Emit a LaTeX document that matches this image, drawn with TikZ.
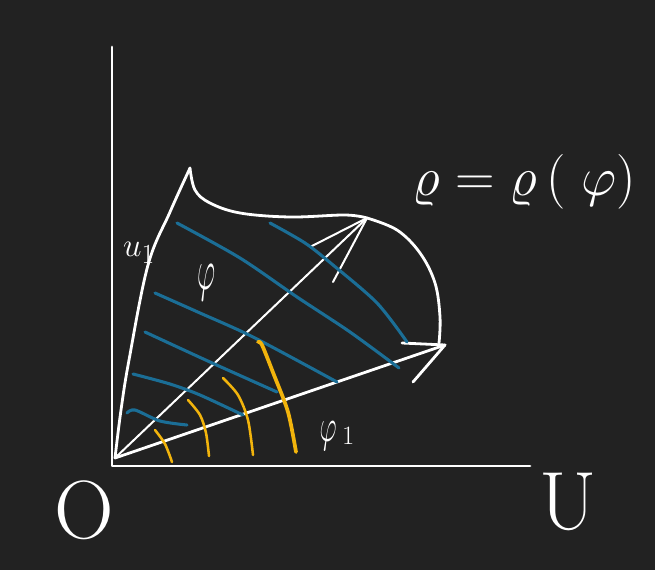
\documentclass[tikz,border=0pt]{standalone}
\definecolor{bg}{HTML}{222222}
\definecolor{blu}{HTML}{1B6E96}
\definecolor{yel}{HTML}{F2B40C}
\begin{document}
\begin{tikzpicture}[x=0.75pt,y=-0.75pt,line cap=round,line join=round,
  wline/.style={draw=white,line width=2.1pt},
  thinw/.style={draw=white,line width=1.5pt},
  bline/.style={draw=blu,line width=2.3pt},
  yline/.style={draw=yel,line width=1.9pt},
  ythick/.style={draw=yel,line width=2.8pt},
  lbl/.style={text=white,inner sep=0pt,font=\fontsize{24.88}{24.88}\selectfont}]
\fill[bg] (0,0) rectangle (655,570);
\useasboundingbox (0,0) rectangle (655,570);
% key points
\coordinate (O) at (115,458);
\coordinate (A) at (367,218);
\coordinate (B) at (445,345);
\coordinate (C) at (190,168);
\coordinate (Ytop) at (112,47);
\coordinate (Xend) at (530,466);
\coordinate (corner) at (112,466);
% axes
\draw[wline] (Ytop) -- (corner) -- (Xend);
% left boundary
\draw[wline] plot[smooth,tension=0.6] coordinates {(O) (121,410) (129,360) (148,265) (170,212) (C)};
% top boundary
\draw[wline] plot[smooth,tension=0.6] coordinates {(C) (195,190) (210,203) (240,213) (290,217) (345,215) (A)};
% right arc
\draw[wline] plot[smooth,tension=0.6] coordinates {(A) (397,230) (420,253) (435,283) (440,317) (439,343)};
% lower ray with arrow
\draw[wline] (O) -- (B);
\coordinate (b1) at (402,343);
\coordinate (b2) at (413,382);
\draw[wline] (b1) -- (B) -- (b2);
% diagonal ray with arrow
\draw[thinw] (O) -- (A);
\coordinate (a1) at (310,247);
\coordinate (a2) at (333,282);
\draw[thinw] (a1) -- (A) -- (a2);
% blue lines
\draw[bline] plot[smooth] coordinates {(177,223) (240,258) (297,297) (350,332) (399,368)};
\draw[bline] plot[smooth] coordinates {(270,223) (305,243) (333,265) (377,303) (407,342)};
\draw[bline] plot[smooth] coordinates {(155,293) (200,313) (253,337) (337,382)};
\draw[bline] plot[smooth] coordinates {(145,332) (210,362) (277,392)};
\draw[bline] plot[smooth] coordinates {(133,374) (170,384) (200,395) (243,415)};
\draw[bline] plot[smooth] coordinates {(127,413) (135,410) (160,421) (187,425)};
% yellow arcs
\draw[yline] plot[smooth] coordinates {(155,430) (165,444) (172,462)};
\draw[yline] plot[smooth] coordinates {(188,400) (200,415) (206,433) (209,456)};
\draw[yline] plot[smooth] coordinates {(223,378) (238,395) (248,420) (253,455)};
\draw[ythick] plot[smooth] coordinates {(258,342) (262,345) (274,375) (288,412) (296,452)};
% labels
\node[lbl,font=\fontsize{62}{62}\selectfont] (lO) at (84,510) {O};
\node[lbl,font=\fontsize{62}{62}\selectfont] (lU) at (568,502) {U};
\node[lbl] (lu) at (139,253) {$u_1$};
\node[lbl] (lphi) at (207,283) {\scalebox{0.85}[1.75]{$\varphi$}};
\node[lbl] (lphi1) at (337,436) {\scalebox{0.8}[1.4]{$\varphi$}\,\raisebox{-2pt}{\scalebox{0.8}{1}}};
\node[lbl] (lrho) at (524,182) {\scalebox{1.65}{$\varrho = \varrho\,(\;\varphi)$}};
\end{tikzpicture}
\end{document}
